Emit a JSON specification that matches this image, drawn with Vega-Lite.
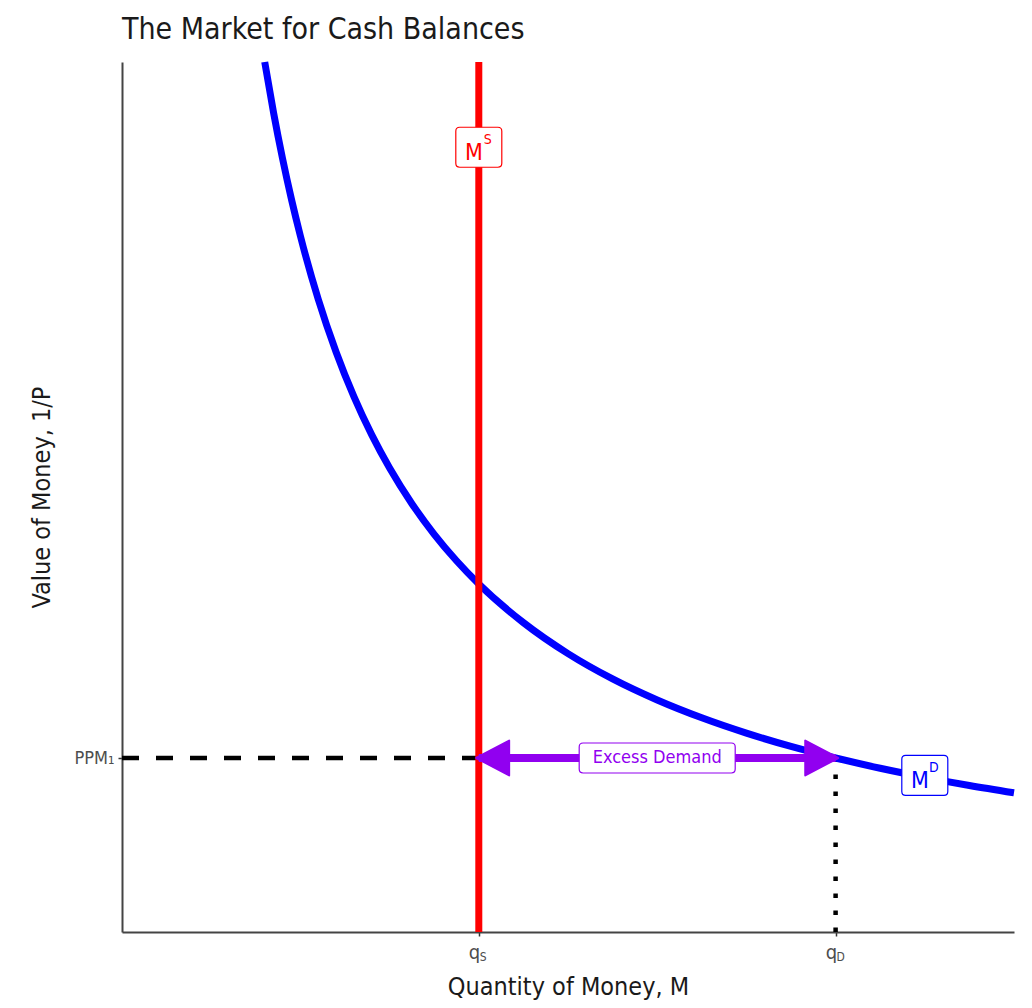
{
  "$schema": "https://vega.github.io/schema/vega-lite/v6.json",
  "width": 892,
  "height": 870,
  "autosize": {"type": "none"},
  "padding": {"left": 122, "top": 62, "right": 18, "bottom": 76},
  "background": "white",
  "config": {
    "font": "Liberation Sans Narrow, DejaVu Sans Condensed, Roboto",
    "view": {"stroke": null}
  },
  "title": {
    "text": "The Market for Cash Balances",
    "anchor": "start",
    "frame": "group",
    "fontSize": 30,
    "fontWeight": "normal",
    "color": "#1a1a1a",
    "offset": 3
  },
  "datasets": {
    "md": [
      {"x": 1.6, "y": 10},
      {"x": 1.7, "y": 9.412},
      {"x": 1.8, "y": 8.889},
      {"x": 1.9, "y": 8.421},
      {"x": 2.0, "y": 8.0},
      {"x": 2.2, "y": 7.273},
      {"x": 2.4, "y": 6.667},
      {"x": 2.6, "y": 6.154},
      {"x": 2.8, "y": 5.714},
      {"x": 3.0, "y": 5.333},
      {"x": 3.25, "y": 4.923},
      {"x": 3.5, "y": 4.571},
      {"x": 3.75, "y": 4.267},
      {"x": 4.0, "y": 4.0},
      {"x": 4.5, "y": 3.556},
      {"x": 5.0, "y": 3.2},
      {"x": 5.5, "y": 2.909},
      {"x": 6.0, "y": 2.667},
      {"x": 6.5, "y": 2.462},
      {"x": 7.0, "y": 2.286},
      {"x": 7.5, "y": 2.133},
      {"x": 8.0, "y": 2.0},
      {"x": 8.5, "y": 1.882},
      {"x": 9.0, "y": 1.778},
      {"x": 9.5, "y": 1.684},
      {"x": 10.0, "y": 1.6}
    ]
  },
  "encoding": {
    "x": {
      "field": "x",
      "type": "quantitative",
      "scale": {"domain": [0, 10], "nice": false, "zero": false},
      "axis": {
        "title": "Quantity of Money, M",
        "values": [4, 8],
        "labelExpr": "'q'",
        "labelAlign": "right",
        "labelOffset": 1,
        "labelFontSize": 20,
        "labelColor": "#4d4d4d",
        "labelPadding": 6,
        "grid": false,
        "domainColor": "#444444",
        "domainWidth": 2,
        "tickColor": "#333333",
        "tickWidth": 1.5,
        "tickSize": 4,
        "titleFontSize": 25,
        "titleFontWeight": "normal",
        "titleColor": "#1a1a1a",
        "titlePadding": 12
      }
    },
    "y": {
      "field": "y",
      "type": "quantitative",
      "scale": {"domain": [0, 10], "nice": false, "zero": false},
      "axis": {
        "title": "Value of Money, 1/P",
        "values": [2],
        "labelExpr": "'PPM₁'",
        "labelFontSize": 18,
        "labelColor": "#4d4d4d",
        "labelPadding": 4,
        "grid": false,
        "domainColor": "#444444",
        "domainWidth": 2,
        "tickColor": "#333333",
        "tickWidth": 1.5,
        "tickSize": 4,
        "titleFontSize": 25,
        "titleFontWeight": "normal",
        "titleColor": "#1a1a1a",
        "titlePadding": 20
      }
    }
  },
  "layer": [
    {
      "data": {"values": [{"x": 0, "y": 2, "x2": 4}]},
      "mark": {"type": "rule", "color": "black", "strokeWidth": 4.5, "strokeDash": [17, 17]},
      "encoding": {"x2": {"field": "x2"}}
    },
    {
      "data": {"values": [{"x": 8, "y": 0, "y2": 2}]},
      "mark": {"type": "rule", "color": "black", "strokeWidth": 4.5, "strokeDash": [4.5, 12.5]},
      "encoding": {"y2": {"field": "y2"}}
    },
    {
      "data": {"name": "md"},
      "mark": {"type": "line", "color": "#0000ff", "strokeWidth": 7, "interpolate": "monotone"},
      "encoding": {"order": {"field": "x", "type": "quantitative"}}
    },
    {
      "data": {"values": [{"x": 4, "y": 0, "y2": 10}]},
      "mark": {"type": "rule", "color": "#ff0000", "strokeWidth": 7},
      "encoding": {"y2": {"field": "y2"}}
    },
    {
      "data": {"values": [{"x": 4, "y": 2, "x2": 8}]},
      "mark": {"type": "rule", "color": "#9100f0", "strokeWidth": 8},
      "encoding": {"x2": {"field": "x2"}}
    },
    {
      "data": {"values": [{"x": 4, "y": 2, "dir": "left"}, {"x": 8, "y": 2, "dir": "right"}]},
      "mark": {"type": "point", "filled": true, "opacity": 1, "size": 4356, "color": "#9100f0", "stroke": "#9100f0", "strokeWidth": 2, "strokeJoin": "round"},
      "encoding": {
        "shape": {
          "field": "dir",
          "type": "nominal",
          "scale": {"domain": ["left", "right"], "range": ["M-0.08,0 L0.92,-0.53 L0.92,0.53 Z", "M0.08,0 L-0.92,-0.53 L-0.92,0.53 Z"]},
          "legend": null
        }
      }
    },
    {
      "data": {"values": [{"x": 6, "y": 2, "label": "Excess Demand"}]},
      "mark": {
        "type": "point",
        "shape": "M-0.95,-0.192 L0.95,-0.192 Q1,-0.192 1,-0.142 L1,0.142 Q1,0.192 0.95,0.192 L-0.95,0.192 Q-1,0.192 -1,0.142 L-1,-0.142 Q-1,-0.192 -0.95,-0.192 Z",
        "size": 24336,
        "fill": "white",
        "filled": true,
        "fillOpacity": 1,
        "opacity": 1,
        "stroke": "#9100f0",
        "strokeWidth": 1.2
      }
    },
    {
      "data": {"values": [{"x": 6, "y": 2, "label": "Excess Demand"}]},
      "mark": {"type": "text", "color": "#9100f0", "fontSize": 18, "align": "center", "baseline": "middle"},
      "encoding": {"text": {"field": "label"}}
    },
    {
      "data": {"values": [{"x": 4, "y": 9.02, "curve": "supply", "main": "M", "sup": "S"}, {"x": 9, "y": 1.8, "curve": "demand", "main": "M", "sup": "D"}]},
      "layer": [
        {
          "mark": {
            "type": "point",
            "shape": "M-0.83,-0.87 L0.83,-0.87 Q1,-0.87 1,-0.7 L1,0.7 Q1,0.87 0.83,0.87 L-0.83,0.87 Q-1,0.87 -1,0.7 L-1,-0.7 Q-1,-0.87 -0.83,-0.87 Z",
            "size": 2116,
            "fill": "white",
            "filled": true,
            "fillOpacity": 1,
            "opacity": 1,
            "strokeWidth": 1.2
          },
          "encoding": {
            "stroke": {"field": "curve", "type": "nominal", "scale": {"domain": ["supply", "demand"], "range": ["#ff0000", "#0000ff"]}, "legend": null}
          }
        },
        {
          "mark": {"type": "text", "fontSize": 23, "align": "center", "baseline": "middle", "dx": -5, "dy": 6},
          "encoding": {
            "text": {"field": "main"},
            "color": {"field": "curve", "type": "nominal", "scale": {"domain": ["supply", "demand"], "range": ["#ff0000", "#0000ff"]}, "legend": null}
          }
        },
        {
          "mark": {"type": "text", "fontSize": 14, "align": "center", "baseline": "middle", "dx": 9, "dy": -7},
          "encoding": {
            "text": {"field": "sup"},
            "color": {"field": "curve", "type": "nominal", "scale": {"domain": ["supply", "demand"], "range": ["#ff0000", "#0000ff"]}, "legend": null}
          }
        }
      ]
    },
    {
      "data": {"values": [{"x": 4, "y": 0, "sub": "S"}, {"x": 8, "y": 0, "sub": "D"}]},
      "mark": {"type": "text", "fontSize": 12, "align": "left", "baseline": "top", "dx": 1, "dy": 20, "color": "#4d4d4d"},
      "encoding": {"text": {"field": "sub"}}
    }
  ]
}
